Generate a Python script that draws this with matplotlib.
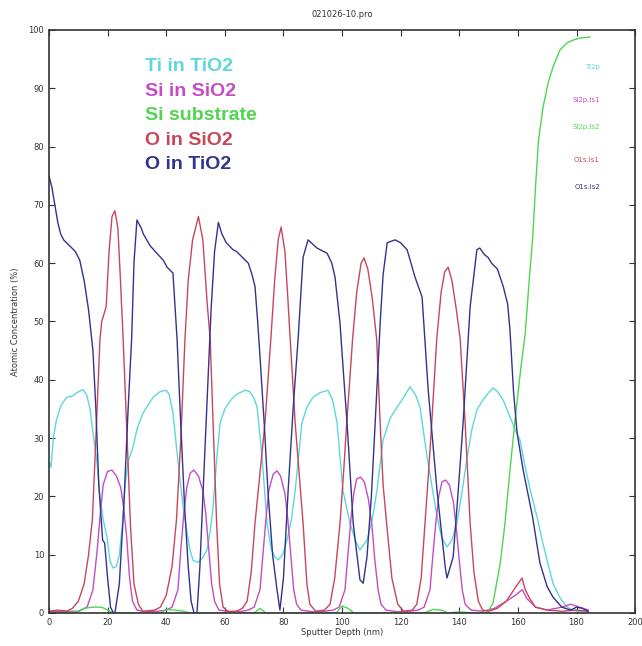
import matplotlib
matplotlib.use("Agg")
import matplotlib.pyplot as plt

# depth profile data (nm, atomic %)
ti_x = [0, 0.7, 1.5, 2.5, 4, 6, 8, 9.5, 11.6, 12.8, 14, 15, 16.4, 17.4, 18.5, 19.8, 20.8, 21.8, 23, 24, 25, 26, 27,
        28.7, 30, 32.1, 35.5, 38, 40, 41, 42.3, 43.5, 44.7, 46, 47, 48, 49.2, 50.9, 52.5, 53.9, 55, 56, 57.3, 58.4,
        60, 62, 64, 66.9, 68.5, 70, 71, 72.7, 74.4, 75.8, 77.1, 78.2, 79.7, 81.2, 82.7, 84, 85.2, 86.3, 88, 90.1,
        92.5, 95.2, 96.8, 98.3, 100.3, 102.7, 104.5, 106.1, 108.5, 110.3, 111.9, 114, 116.5, 118.8, 121, 123.2, 125,
        126.6, 129, 132.4, 134, 135.8, 137.5, 139.2, 141, 142.7, 144.3, 146, 148, 150, 151.5, 153, 155, 157, 159,
        160.7, 162.5, 164.5, 166.5, 168.5, 170, 172, 174.5, 176.8, 179, 182, 184]
ti_y = [26, 25, 30, 33, 35.5, 37, 37.2, 37.8, 38.3, 37.5, 35, 31, 25.7, 19.9, 16, 13, 9, 7.7, 8, 10, 15, 22, 26,
        28.5, 31.5, 34.3, 37, 38, 38.2, 37.5, 34.3, 28.5, 22.8, 17.5, 14.2, 11, 9, 8.7, 9.5, 10.8, 14, 18.2, 26.8,
        32.6, 35, 36.5, 37.5, 38.2, 38, 36.8, 35.3, 26.8, 15.4, 11, 9.6, 9.1, 10, 12.5, 16, 21, 27, 32.6, 35.3, 37,
        37.8, 38.2, 36.5, 32.6, 21, 15.4, 12.5, 10.8, 12.5, 16, 21, 29.7, 33.5, 35.3, 37, 38.8, 37.5, 35.3, 26.8,
        16.5, 13, 11.3, 12.5, 15.4, 21, 26.8, 31.5, 34.8, 36.5, 37.8, 38.6, 38, 36.5, 34, 31.5, 29.7, 25, 20.5,
        16.5, 12, 9, 5, 2.5, 1, 0.4, 0.2, 0.1]

si_x = [0, 5, 10, 13, 15, 16.5, 17.5, 18.5, 20, 21.5, 23, 24.5, 25.5, 26.5, 27.5, 28.5, 30, 33, 37, 40, 42, 44, 45,
        46, 47, 48.2, 49.4, 51, 52.5, 53.5, 54.5, 55.5, 56.5, 58, 62, 66, 68, 70, 72, 73, 74, 75, 76.5, 77.8, 79,
        80.5, 81.5, 82.5, 83.5, 84.5, 86, 90, 94, 97, 99, 101, 102, 103, 104, 105, 106.3, 107.6, 109, 110.2,
        111.2, 112.3, 113.3, 115, 119, 123, 126, 128, 130, 131, 132, 133, 134.1, 135.3, 136.6, 138, 139, 140,
        141, 142, 144, 148, 152, 156, 159, 161.5, 163, 166, 170, 175, 178, 181, 184]
si_y = [0.2, 0.3, 0.3, 1, 4, 11, 17, 22, 24.3, 24.5, 23.5, 21.5, 18, 13, 6, 2, 0.5, 0.2, 0.3, 0.5, 1, 4, 11, 17, 21.5,
        24, 24.5, 23.5, 21, 17, 11, 5, 2, 0.5, 0.2, 0.3, 0.5, 1, 4, 10, 16, 21, 23.8, 24.4, 23.5, 20.5, 16, 10, 4,
        1.5, 0.5, 0.2, 0.3, 0.5, 1, 4, 10, 16, 20.5, 23, 23.3, 22.5, 19.5, 15, 9, 4, 1.5, 0.5, 0.2, 0.3, 0.5, 1, 4,
        10, 15.5, 20, 22.5, 22.8, 22, 19, 14.5, 9, 4, 1.5, 0.5, 0.3, 0.8, 2, 3, 4, 2.5, 1, 0.5, 1, 1.5, 1, 0.5]

sub_x = [0, 10, 12, 15, 18, 20, 22, 38, 40, 43, 46, 48, 70, 72, 74, 98, 100, 102, 104, 128, 131, 134, 136, 140, 145,
         149.5, 151.5, 154, 155.5, 157.3, 159, 161, 162.5, 164, 165, 166, 167, 168.6, 170.3, 172, 174.4, 176.8, 179,
         181, 184.6]
sub_y = [0, 0.2, 0.8, 1, 1, 0.5, 0, 0, 0.6, 0.5, 0.3, 0, 0, 0.8, 0, 0, 1.2, 0.8, 0, 0, 0.6, 0.5, 0, 0.2, 0,
         0, 1.7, 8.6, 15, 24.5, 33, 42, 48, 58, 64, 73, 81, 86.8, 90.9, 93.7, 96.6, 97.8, 98.3, 98.6, 98.8]

osi_x = [0, 3, 6, 8, 10, 12, 13.5, 14.8, 16, 17.4, 18, 19.5, 20.5, 21.5, 22.5, 23.5, 24.3, 25.3, 26.5, 27.8, 29,
         30.5, 32, 36, 38, 40, 42, 43.5, 45, 46.4, 47.5, 49, 51, 52.5, 54, 55, 56, 57.2, 58.2, 59.4, 61, 64, 66,
         67.6, 69, 70.3, 72, 73.7, 75.7, 77, 78.2, 79.2, 80.5, 81.5, 82.3, 84, 85.5, 86.7, 88, 89, 91, 94, 95.9,
         97.5, 99.3, 100.5, 101.6, 103.6, 105, 106.5, 107.5, 108.8, 110.3, 111.8, 113, 114, 115.2, 117, 119, 121,
         124, 125.5, 127, 128.3, 129.5, 130.6, 132.3, 133.8, 135, 136.2, 137.5, 139, 140.3, 142, 143.7, 145, 146.5,
         148, 150, 153, 156, 158, 160, 161.4, 162.5, 164, 166, 170, 175, 180, 184]
osi_y = [0.3, 0.5, 0.3, 0.8, 2, 5, 10, 16, 30, 47, 50, 52.5, 62, 68, 69, 66, 58, 47, 32, 15, 5, 1.5, 0.3, 0.5, 1, 3,
         8, 16, 30, 47, 57, 64, 68, 64, 53, 47, 32.6, 15.4, 5, 1, 0.3, 0.3, 0.8, 2, 7, 15.4, 24, 32.6, 47, 57, 64,
         66.2, 62, 54, 47, 32.6, 23, 15.4, 5, 1.5, 0.3, 0.5, 1.5, 6, 15.4, 24, 32.6, 47, 55, 60, 60.9, 59, 54, 47,
         32.6, 22, 15.4, 6, 1.5, 0.3, 0.5, 1.5, 6, 15.4, 24, 32.6, 47, 55, 58.5, 59.3, 57, 52, 47, 32.6, 15.4, 7, 2,
         0.5, 0.3, 0.8, 2, 3.5, 5, 6, 4, 2.5, 1, 0.5, 0.3, 0.5, 0.3]

oti_x = [0, 1, 2, 3, 4, 5, 7, 9, 10.5, 12, 13.5, 15, 16, 17, 18.3, 19, 20, 21, 22, 22.5, 24, 25.5, 27, 28.2, 29, 30,
         31.5, 32.2, 34.5, 36.8, 39, 40.3, 42.3, 43.7, 45, 46.3, 47.5, 48.5, 49.5, 50.5, 51.5, 52.6, 54, 55.3, 56.5,
         57.8, 59, 60.5, 62.8, 64, 66, 68, 69.3, 70.3, 71.2, 72, 73.5, 74.7, 76.3, 77.8, 78.8, 80, 81.6, 83.3, 85,
         86.7, 88.4, 89.5, 91.4, 94.9, 96.5, 97.6, 99.3, 100.5, 101.7, 103.8, 106.1, 107.2, 108.5, 110, 111.3, 113,
         114, 115.4, 118.1, 120, 122.2, 124.9, 127.3, 129.4, 132.4, 135.2, 135.8, 137.9, 139.5, 141.3, 143.7, 146,
         147, 148.5, 149.8, 151, 153, 155, 156.5, 157.3, 158.5, 159.7, 161.8, 165, 167.5, 170, 172, 175, 178, 180,
         182, 184]
oti_y = [75, 73, 70, 67, 65, 64, 63, 62, 60.5, 57, 52, 45, 35, 22, 12.5, 12, 6, 1, 0, 0, 5, 18, 35, 47, 60, 67.4,
         66, 65, 63, 61.7, 60.5, 59.3, 58.3, 47, 32, 18, 8, 2, 0, 0, 8, 21, 37, 52, 62, 67, 65, 63.5, 62.3, 62, 61,
         60, 58, 56, 50, 44, 32, 21, 10, 4, 0.5, 6, 21, 35, 47, 61, 64, 63.5, 62.6, 61.7, 60, 57.6, 49.7, 41, 32.6,
         15.4, 5.7, 5.1, 9.6, 20, 32.6, 49.7, 58, 63.5, 64, 63.5, 62.3, 57.6, 54.2, 38.2, 21, 7.9, 6, 9.6, 20, 32.6,
         52.5, 62.3, 62.6, 61.5, 61, 60, 59, 56, 53, 48.5, 38, 31, 24.5, 16.5, 8.6, 4.5, 2.7, 1, 0.5, 1, 0.8, 0.3]

series_names = ["Ti in TiO2", "Si in SiO2", "Si substrate", "O in SiO2", "O in TiO2"]
legend_names = ["Ti2p", "Si2p.ls1", "Si2p.ls2", "O1s.ls1", "O1s.ls2"]
colors = ["#5cd8dc", "#c54cc4", "#4fd64f", "#c8465a", "#33338f"]

fig = plt.figure(figsize=(6.42, 6.46), dpi=100)
ax = fig.add_axes([0.0763, 0.0511, 0.913, 0.9025])

xs = [ti_x, si_x, sub_x, osi_x, oti_x]
ys = [ti_y, si_y, sub_y, osi_y, oti_y]
for x, y, c in zip(xs, ys, colors):
    ax.plot(x, y, color=c, linewidth=1.0)

ax.set_xlim(0, 200)
ax.set_ylim(0, 100)
ax.set_xticks(range(0, 201, 20))
ax.set_yticks(range(0, 101, 10))
ax.tick_params(direction="in", top=True, right=True, labelsize=6, length=4, width=0.8, color="#333333",
               labelcolor="#333333")
for s in ax.spines.values():
    s.set_linewidth(1.2)
    s.set_color("#333333")

ax.set_title("021026-10.pro", fontsize=6, color="#333333", pad=9)
ax.set_xlabel("Sputter Depth (nm)", fontsize=6, color="#333333", labelpad=1)
ax.set_ylabel("Atomic Concentration (%)", fontsize=6, color="#333333", labelpad=6)

# big coloured labels
label_y = [93.7, 89.5, 85.4, 81.1, 77.0]
for name, c, yy in zip(series_names, colors, label_y):
    ax.text(32.8, yy, name, color=c, fontsize=14, fontweight="bold", va="center", ha="left",
            family="Liberation Sans")

# small legend labels on the right
leg_y = [93.7, 88.0, 83.4, 77.7, 73.1]
for name, c, yy in zip(legend_names, colors, leg_y):
    ax.text(188, yy, name, color=c, fontsize=5, va="center", ha="right")

fig.savefig("out.png", dpi=100)
